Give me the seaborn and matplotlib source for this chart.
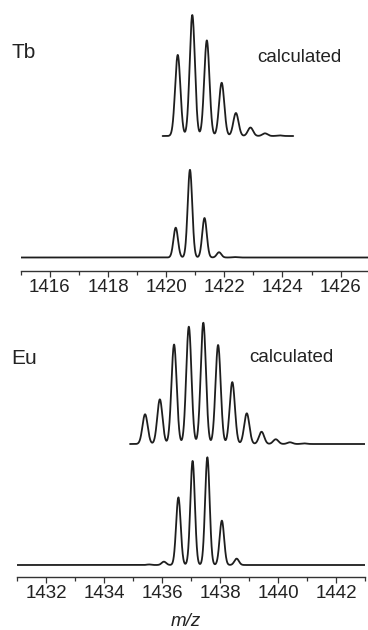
import numpy as np
import pandas as pd
import matplotlib
matplotlib.use("Agg")
import matplotlib.pyplot as plt
import seaborn as sns
from matplotlib.ticker import MultipleLocator

# ---- data (relative intensities, %) ----
tb_calc_mz = [1420.40, 1420.90, 1421.40, 1421.91, 1422.40, 1422.90, 1423.40, 1423.90]
tb_calc_int = [67, 100, 79, 44, 19, 7, 2.2, 0.5]
tb_exp_mz = [1420.33, 1420.82, 1421.32, 1421.82, 1422.35]
tb_exp_int = [34, 100, 45, 6, 0.5]

eu_calc_mz = [1435.41, 1435.92, 1436.41, 1436.92, 1437.42, 1437.93, 1438.42,
              1438.92, 1439.43, 1439.92, 1440.41, 1440.90]
eu_calc_int = [24.5, 36.8, 82, 96.7, 100, 81.6, 51, 25.3, 10.1, 3.9, 1.4, 0.5]
eu_exp_mz = [1435.55, 1436.06, 1436.56, 1437.05, 1437.56, 1438.06, 1438.57]
eu_exp_int = [0.5, 3.1, 62.8, 96.6, 100, 41.2, 5.9]

tb_xlim = (1415, 1427)
eu_xlim = (1431, 1443)
tb_calc_range = (1419.88, 1424.37)
eu_calc_range = (1434.89, 1443.0)

xlabel_text = "m/z"


def profile(mz, inten, lo, hi, sigma, n=2000):
    x = np.linspace(lo, hi, n)
    y = np.zeros_like(x)
    for m, h in zip(mz, inten):
        y += h * np.exp(-0.5 * ((x - m) / sigma) ** 2)
    return x, y


sns.set_style("white")
plt.rcParams['font.family'] = ['Liberation Sans', 'DejaVu Sans']

W, H = 368, 630
fig = plt.figure(figsize=(W / 100, H / 100), dpi=100)

line_col = "#1e1e1e"
text_col = "#222222"


def panel(rect_px, xlim, calc, exp, calc_range, label, label_y, calc_x, calc_y,
          exp_base, exp_scale, calc_base, calc_scale, top_units):
    left, right, top, bottom = rect_px
    ax = fig.add_axes([left / W, 1 - bottom / H, (right - left) / W, (bottom - top) / H])
    # experimental
    xe, ye = profile(exp[0], exp[1], xlim[0], xlim[1], 0.078)
    dfe = pd.DataFrame({"mz": xe, "I": exp_base + ye * exp_scale})
    sns.lineplot(data=dfe, x="mz", y="I", ax=ax, color=line_col, lw=1.3,
                 estimator=None, sort=False)
    # calculated
    xc, yc = profile(calc[0], calc[1], calc_range[0], calc_range[1], 0.09)
    dfc = pd.DataFrame({"mz": xc, "I": calc_base + yc * calc_scale})
    sns.lineplot(data=dfc, x="mz", y="I", ax=ax, color=line_col, lw=1.3,
                 estimator=None, sort=False)
    ax.set_xlim(*xlim)
    ax.set_ylim(0, top_units)
    for s in ("left", "right", "top"):
        ax.spines[s].set_visible(False)
    ax.spines["bottom"].set_color("#333333")
    ax.spines["bottom"].set_linewidth(1.0)
    ax.set_yticks([])
    ax.set_ylabel("")
    ax.set_xlabel("")
    ax.xaxis.set_major_locator(MultipleLocator(2))
    ax.xaxis.set_minor_locator(MultipleLocator(1))
    ax.tick_params(axis="x", which="both", direction="out", bottom=True,
                   color="#333333", width=0.9, labelsize=13.5, labelcolor=text_col, pad=2)
    ax.tick_params(axis="x", which="major", length=4)
    ax.tick_params(axis="x", which="minor", length=3)
    ax.patch.set_alpha(0)
    fig.text(11 / W, 1 - label_y / H, label, fontsize=15, color=text_col,
             ha="left", va="center")
    fig.text(calc_x / W, 1 - calc_y / H, "calculated",
             fontsize=13.5, color=text_col, ha="center", va="center")
    return ax


# Top panel (Tb)
ax1 = panel((20.7, 369.7, 5, 270.5), tb_xlim, (tb_calc_mz, tb_calc_int),
            (tb_exp_mz, tb_exp_int), tb_calc_range, "Tb", 52, 299.5, 57,
            exp_base=13.0, exp_scale=0.877, calc_base=134.5, calc_scale=1.21,
            top_units=265.5)

# Bottom panel (Eu)
ax2 = panel((17.3, 365.0, 310, 576.5), eu_xlim, (eu_calc_mz, eu_calc_int),
            (eu_exp_mz, eu_exp_int), eu_calc_range, "Eu", 358, 291, 357,
            exp_base=11.5, exp_scale=1.077, calc_base=132.5, calc_scale=1.213,
            top_units=266.5)

fig.text(186 / W, 1 - 621 / H, xlabel_text, fontsize=13.5, style="italic",
         color=text_col, ha="center", va="center")

fig.savefig("out.png", dpi=100, facecolor="white")
